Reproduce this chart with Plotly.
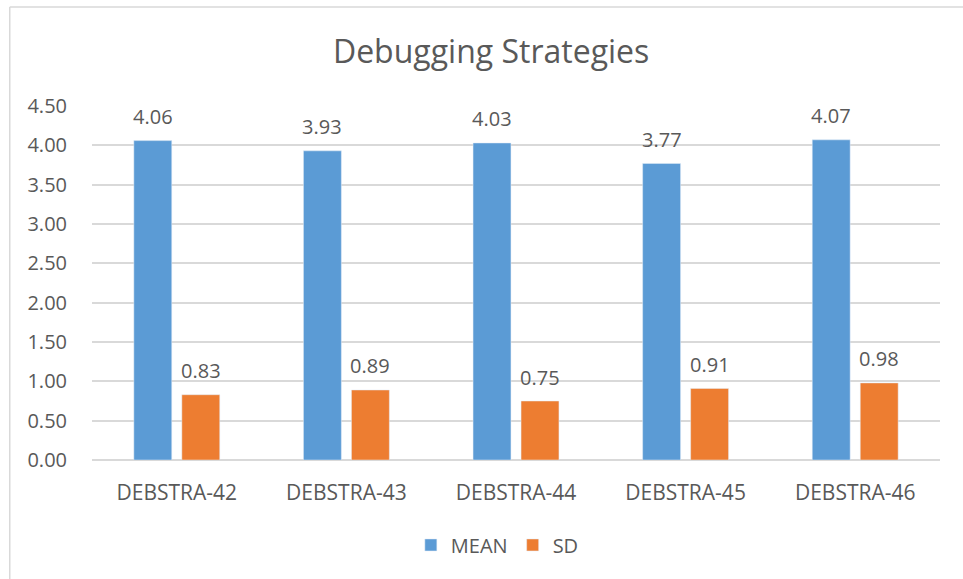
import plotly.graph_objects as go

categories = ["DEBSTRA-42", "DEBSTRA-43", "DEBSTRA-44", "DEBSTRA-45", "DEBSTRA-46"]
mean_vals = [4.06, 3.93, 4.03, 3.77, 4.07]
sd_vals = [0.83, 0.89, 0.75, 0.91, 0.98]

TXT = "#595959"
FONT = "Open Sans"

fig = go.Figure()

fig.add_trace(go.Bar(x=categories, y=mean_vals, name="MEAN", marker=dict(color="#5B9BD5")))
fig.add_trace(go.Bar(x=categories, y=sd_vals, name="SD", marker=dict(color="#ED7D31")))

# data labels above each bar
for vals, dx in [(mean_vals, -24), (sd_vals, 24)]:
    for c, v in zip(categories, vals):
        fig.add_annotation(x=c, y=v, text=f"{v:.2f}", showarrow=False,
                           xshift=dx, yshift=24, yanchor="middle",
                           font=dict(size=20, color=TXT))

# chart frame (left and top edges visible)
fig.add_shape(type="line", xref="paper", yref="paper",
              x0=-0.097, x1=1.1, y0=1.28, y1=1.28,
              line=dict(color="#d9d9d9", width=1.5))
fig.add_shape(type="line", xref="paper", yref="paper",
              x0=-0.097, x1=-0.097, y0=1.28, y1=-0.4,
              line=dict(color="#d9d9d9", width=1.5))

fig.update_layout(
    width=963, height=579,
    margin=dict(l=92, r=23, t=106, b=119),
    paper_bgcolor="white", plot_bgcolor="white",
    font=dict(family=FONT, color=TXT, size=20),
    title=dict(text="Debugging Strategies", x=0.51, xref="container", xanchor="center",
               y=0.91, yanchor="middle", font=dict(size=32, color=TXT)),
    barmode="group", bargap=0.434, bargroupgap=0.21,
    xaxis=dict(showgrid=False, showline=False, ticks="outside", ticklen=14,
               tickcolor="rgba(0,0,0,0)", tickfont=dict(size=21, color=TXT)),
    yaxis=dict(range=[0, 4.5], dtick=0.5, tickformat=".2f", showgrid=True,
               gridcolor="#d9d9d9", gridwidth=1.5, zeroline=True, zerolinecolor="#d9d9d9",
               zerolinewidth=1.5, showline=False, ticks="outside", ticklen=20,
               tickcolor="rgba(0,0,0,0)", tickfont=dict(size=20, color=TXT)),
    legend=dict(orientation="h", x=0.478, xanchor="center", y=-0.24, yanchor="middle",
                font=dict(size=20, color=TXT), traceorder="normal"),
)

fig.write_html("out.html", config={"displayModeBar": False},
               post_script="document.body.style.margin='0';")
